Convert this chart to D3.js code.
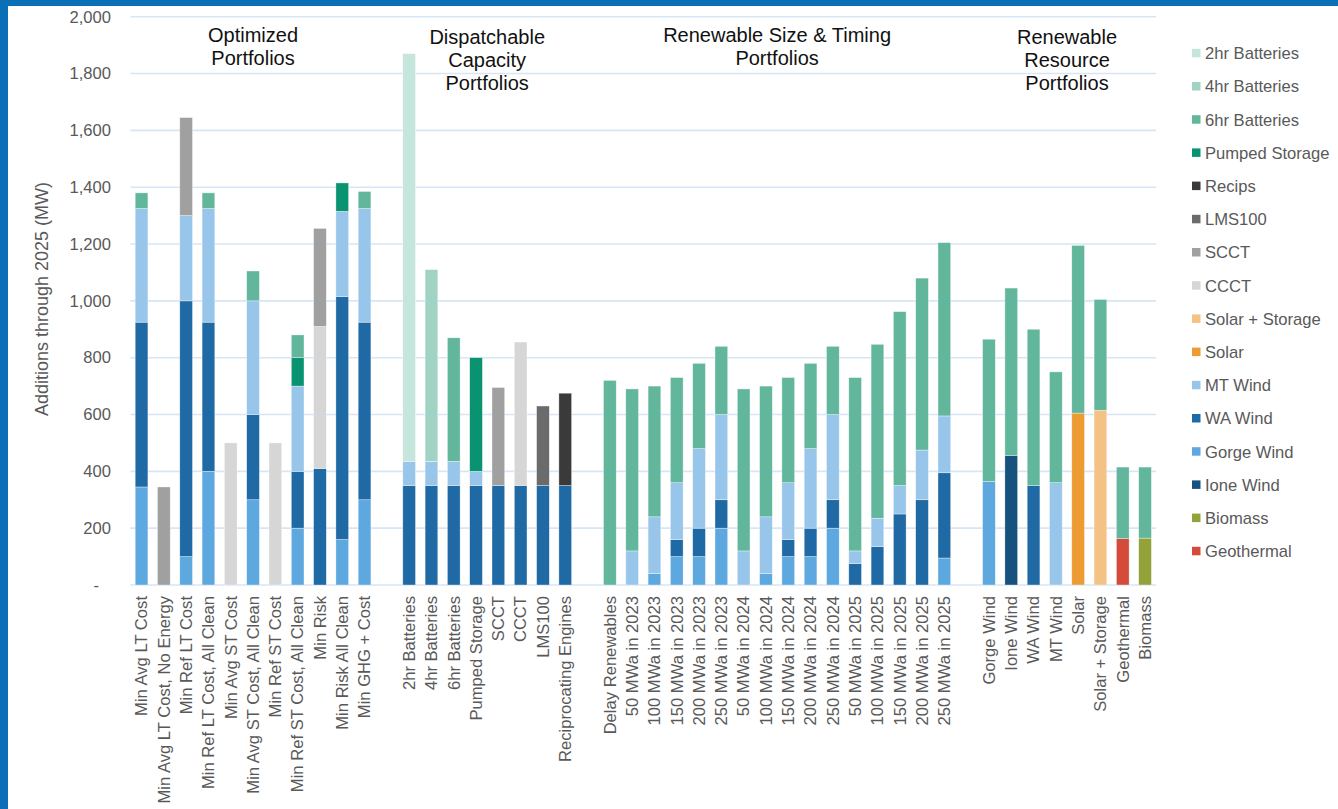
<!DOCTYPE html>
<html><head><meta charset="utf-8">
<script src="https://cdn.jsdelivr.net/npm/d3@7/dist/d3.min.js"></script>
<style>
html,body{margin:0;padding:0;background:#fff;}
svg{display:block;}
</style></head>
<body>
<script>
// ---- DATA ----
const categories = [
  "Min Avg LT Cost","Min Avg LT Cost, No Energy","Min Ref LT Cost","Min Ref LT Cost, All Clean",
  "Min Avg ST Cost","Min Avg ST Cost, All Clean","Min Ref ST Cost","Min Ref ST Cost, All Clean",
  "Min Risk","Min Risk All Clean","Min GHG + Cost","",
  "2hr Batteries","4hr Batteries","6hr Batteries","Pumped Storage","SCCT","CCCT","LMS100","Reciprocating Engines","",
  "Delay Renewables","50 MWa in 2023","100 MWa in 2023","150 MWa in 2023","200 MWa in 2023","250 MWa in 2023",
  "50 MWa in 2024","100 MWa in 2024","150 MWa in 2024","200 MWa in 2024","250 MWa in 2024",
  "50 MWa in 2025","100 MWa in 2025","150 MWa in 2025","200 MWa in 2025","250 MWa in 2025","",
  "Gorge Wind","Ione Wind","WA Wind","MT Wind","Solar","Solar + Storage","Geothermal","Biomass"
];
// series listed bottom-to-top in stack order; values aligned with categories
const geothermal   = [0,0,0,0,0,0,0,0,0,0,0,0, 0,0,0,0,0,0,0,0,0, 0,0,0,0,0,0,0,0,0,0,0,0,0,0,0,0,0, 0,0,0,0,0,0,163,0];
const biomass      = [0,0,0,0,0,0,0,0,0,0,0,0, 0,0,0,0,0,0,0,0,0, 0,0,0,0,0,0,0,0,0,0,0,0,0,0,0,0,0, 0,0,0,0,0,0,0,165];
const ioneWind     = [0,0,0,0,0,0,0,0,0,0,0,0, 0,0,0,0,0,0,0,0,0, 0,0,0,0,0,0,0,0,0,0,0,0,0,0,0,0,0, 0,455,0,0,0,0,0,0];
const gorgeWind    = [345,0,100,400,0,300,0,200,0,160,300,0, 0,0,0,0,0,0,0,0,0, 0,0,40,100,100,200,0,40,100,100,200,0,0,0,0,95,0, 365,0,0,0,0,0,0,0];
const waWind       = [580,0,900,525,0,300,0,200,410,855,625,0, 350,350,350,350,350,350,350,350,0, 0,0,0,60,100,100,0,0,60,100,100,75,135,250,300,300,0, 0,0,350,0,0,0,0,0];
const mtWind       = [400,0,300,400,0,400,0,300,0,300,400,0, 85,85,85,50,0,0,0,0,0, 0,120,200,200,280,300,120,200,200,280,300,45,100,100,175,200,0, 0,0,0,360,0,0,0,0];
const solar        = [0,0,0,0,0,0,0,0,0,0,0,0, 0,0,0,0,0,0,0,0,0, 0,0,0,0,0,0,0,0,0,0,0,0,0,0,0,0,0, 0,0,0,0,605,0,0,0];
const solarStorage = [0,0,0,0,0,0,0,0,0,0,0,0, 0,0,0,0,0,0,0,0,0, 0,0,0,0,0,0,0,0,0,0,0,0,0,0,0,0,0, 0,0,0,0,0,615,0,0];
const ccct         = [0,0,0,0,500,0,500,0,500,0,0,0, 0,0,0,0,0,505,0,0,0, 0,0,0,0,0,0,0,0,0,0,0,0,0,0,0,0,0, 0,0,0,0,0,0,0,0];
const scct         = [0,345,345,0,0,0,0,0,345,0,0,0, 0,0,0,0,345,0,0,0,0, 0,0,0,0,0,0,0,0,0,0,0,0,0,0,0,0,0, 0,0,0,0,0,0,0,0];
const lms100       = [0,0,0,0,0,0,0,0,0,0,0,0, 0,0,0,0,0,0,280,0,0, 0,0,0,0,0,0,0,0,0,0,0,0,0,0,0,0,0, 0,0,0,0,0,0,0,0];
const recips       = [0,0,0,0,0,0,0,0,0,0,0,0, 0,0,0,0,0,0,0,325,0, 0,0,0,0,0,0,0,0,0,0,0,0,0,0,0,0,0, 0,0,0,0,0,0,0,0];
const pumped       = [0,0,0,0,0,0,0,100,0,100,0,0, 0,0,0,400,0,0,0,0,0, 0,0,0,0,0,0,0,0,0,0,0,0,0,0,0,0,0, 0,0,0,0,0,0,0,0];
const bat6         = [55,0,0,55,0,105,0,80,0,0,60,0, 0,0,435,0,0,0,0,0,0, 720,570,460,370,300,240,570,460,370,300,240,610,612,612,605,610,0, 500,590,550,390,590,390,252,250];
const bat4         = [0,0,0,0,0,0,0,0,0,0,0,0, 0,675,0,0,0,0,0,0,0, 0,0,0,0,0,0,0,0,0,0,0,0,0,0,0,0,0, 0,0,0,0,0,0,0,0];
const bat2         = [0,0,0,0,0,0,0,0,0,0,0,0, 1435,0,0,0,0,0,0,0,0, 0,0,0,0,0,0,0,0,0,0,0,0,0,0,0,0,0, 0,0,0,0,0,0,0,0];

const seriesNames = ["Geothermal","Biomass","Ione Wind","Gorge Wind","WA Wind","MT Wind","Solar","Solar + Storage","CCCT","SCCT","LMS100","Recips","Pumped Storage","6hr Batteries","4hr Batteries","2hr Batteries"];
const seriesValues = [geothermal,biomass,ioneWind,gorgeWind,waWind,mtWind,solar,solarStorage,ccct,scct,lms100,recips,pumped,bat6,bat4,bat2];
const seriesColors = ["#D54B3B","#93A33A","#17517E","#5EA8E0","#1F6AA5","#98C6EA","#ED9B33","#F3C284","#D6D6D6","#A0A0A0","#6B6B6B","#3A3A3A","#0A9370","#62B69C","#A1D3C5","#C6E5DC"];
const legendOrder = ["2hr Batteries","4hr Batteries","6hr Batteries","Pumped Storage","Recips","LMS100","SCCT","CCCT","Solar + Storage","Solar","MT Wind","WA Wind","Gorge Wind","Ione Wind","Biomass","Geothermal"];
const yTicks = [0,200,400,600,800,1000,1200,1400,1600,1800,2000];
const groupTitles = [
  {lines:["Optimized","Portfolios"], from:0, to:10},
  {lines:["Dispatchable","Capacity","Portfolios"], from:12, to:19},
  {lines:["Renewable Size & Timing","Portfolios"], from:21, to:36},
  {lines:["Renewable","Resource","Portfolios"], from:38, to:45}
];

// ---- CHART ----
const W = 1338, H = 809;
const svg = d3.select("body").append("svg").attr("width", W).attr("height", H);
svg.append("rect").attr("x",0).attr("y",0).attr("width",W).attr("height",H).attr("fill","#fff");
// frame
svg.append("rect").attr("x",0).attr("y",0).attr("width",W).attr("height",6).attr("fill","#0A6FB7");
svg.append("rect").attr("x",0).attr("y",0).attr("width",8).attr("height",H).attr("fill","#0A6FB7");

const plotL = 130.4, plotR = 1156.2, plotT = 16.7, plotB = 585;
const keys = categories.map((c,i)=>i);
const x = d3.scaleBand().domain(keys).range([plotL, plotR]).paddingInner(0.43).paddingOuter(0.215);
const y = d3.scaleLinear().domain([0,2000]).range([plotB, plotT]);
const font = "'Liberation Sans', Arial, sans-serif";
const fs = 16.6;

// gridlines
svg.append("g").selectAll("line").data(yTicks).join("line")
  .attr("x1", plotL).attr("x2", plotR)
  .attr("y1", d=>y(d)).attr("y2", d=>y(d))
  .attr("stroke", "#D6E6F6").attr("stroke-width", 1.6);

// y axis
const yAxis = d3.axisLeft(y).tickValues(yTicks).tickSize(0).tickPadding(0)
  .tickFormat(d => d === 0 ? "-" : d3.format(",")(d));
const gy = svg.append("g").attr("transform", `translate(${111},0)`).call(yAxis);
gy.select(".domain").remove();
gy.selectAll("text").attr("font-family", font).attr("font-size", fs).attr("fill", "#595959");
gy.selectAll(".tick").filter(d=>d===0).select("text").attr("dx", -12);

svg.append("text").attr("transform", `translate(48,299) rotate(-90)`)
  .attr("text-anchor","middle").attr("font-family", font).attr("font-size", 18).attr("fill","#595959")
  .text("Additions through 2025 (MW)");

// stacked data
const table = keys.map(i => {
  const o = {idx:i};
  seriesNames.forEach((s,j) => o[s] = seriesValues[j][i]);
  return o;
});
const stack = d3.stack().keys(seriesNames)(table);
const color = d3.scaleOrdinal().domain(seriesNames).range(seriesColors);

svg.append("g").selectAll("g").data(stack).join("g")
  .attr("fill", d => color(d.key))
  .selectAll("rect").data(d => d.filter(v => v[1] - v[0] > 0)).join("rect")
  .attr("x", d => x(d.data.idx))
  .attr("width", x.bandwidth())
  .attr("y", d => y(d[1]))
  .attr("height", d => y(d[0]) - y(d[1]))
  .attr("stroke", "#ffffff").attr("stroke-width", 0.6).attr("stroke-opacity", 0.6);

// x labels
const xAxis = d3.axisBottom(x).tickSize(0).tickFormat(i => categories[i]);
const gx = svg.append("g").attr("transform", `translate(0,${plotB})`).call(xAxis);
gx.select(".domain").remove();
gx.selectAll("text")
  .attr("font-family", font).attr("font-size", fs).attr("fill", "#595959")
  .attr("transform", "rotate(-90)")
  .attr("text-anchor", "end")
  .attr("x", -11).attr("y", 0).attr("dy", "0.35em");

// group titles
groupTitles.forEach((g, k) => {
  const cx = (x(g.from) + x(g.to) + x.bandwidth()) / 2;
  const top = g.lines.length === 2 ? 42 : 44;
  const t = svg.append("text").attr("text-anchor","middle").attr("font-family", font)
    .attr("font-size", 20).attr("fill", "#111");
  g.lines.forEach((ln, i) => t.append("tspan").attr("x", cx).attr("y", top + i*22.8).text(ln));
});

// legend
const lg = svg.append("g");
legendOrder.forEach((name, i) => {
  const yy = 53.3 + i * 33.2;
  lg.append("rect").attr("x", 1192).attr("y", yy - 4.5).attr("width", 8.5).attr("height", 8.5).attr("fill", color(name));
  lg.append("text").attr("x", 1205).attr("y", yy).attr("dy", "0.35em")
    .attr("font-family", font).attr("font-size", fs).attr("fill", "#595959").text(name);
});
</script>
</body></html>
